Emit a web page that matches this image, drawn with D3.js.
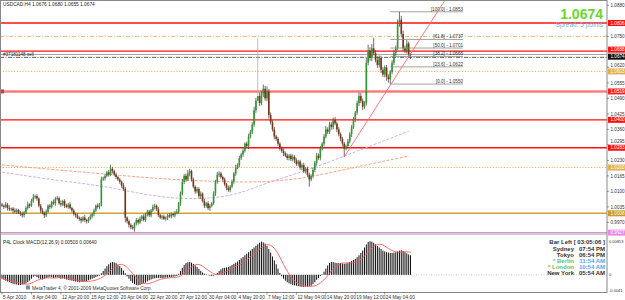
<!DOCTYPE html>
<html><head><meta charset="utf-8">
<script src="https://cdn.jsdelivr.net/npm/d3@7"></script>
<style>body{margin:0;background:#fff;} svg{display:block;font-family:Arial,"Liberation Sans",sans-serif;}</style>
</head><body><svg id="c" width="625" height="300"></svg>
<script>
// ---- data (prices in pips = price*10000) ----
const symbol = "USDCAD,H4";
const lastOHLC = ["1.0676","1.0680","1.0655","1.0674"];
const firstOpen = 10045;
const closes = [
10040,10035,10045,10030,10025,10028,10020,10015,10022,10010,10005,10000,
10012,10030,10045,10040,10060,10075,10080,
10070,10040,10020,10010,10000,
10015,10040,10035,10055,10050,10070,10072,
10050,10045,10060,10040,10035,10045,10030,
10020,10005,10000,9990,9985,9978,9990,9980,9975,9985,
9995,10005,10020,10040,10035,10045,
10150,
10155,10165,10180,10170,10195,10185,
10170,10160,10150,10140,10125,10110,
9990,
9975,9960,9950,9945,9965,9980,
9970,9985,9995,9980,10005,10015,10000,10020,10035,10040,10025,
10000,9990,9995,9985,9990,10000,9995,10005,10000,10010,10015,
10050,10090,10140,10165,10150,
10175,10185,10150,10120,10100,10110,10080,10090,
10060,10040,10050,10030,10040,10050,
10090,10140,10170,10175,
10160,10150,10130,10115,10105,
10120,10140,10175,10200,10210,10240,10255,10270,10300,10290,10330,10350,10380,
10440,10480,10500,10470,10510,10530,10490,10520,10420,10390,
10360,10330,10320,10300,10280,10270,10260,10250,10240,10250,10235,
10245,10230,10215,10225,10200,10210,10185,10195,10170,10150,10165,
10190,10220,10250,10240,10280,10300,
10330,10360,10350,10380,10370,10400,10385,10360,
10340,10320,10300,10280,10290,
10310,10340,10370,10400,10430,10470,10500,10480,10455,10470,10640,10690,10660,10700,10680,10650,10630,10660,10610,10590,10620,10580,10570,10600,10640,10680,10700,10800,10820,10760,10700,10690,10720,10676,10674];
const wickUp = [
8,5,10,6,12,4,7,9,6,5, 7,10,6,8,12,5,9,14,6,8, 5,7,10,6,9,5,8,6,11,7, 9,6,12,5,7,8,6,10,5,7,
6,9,5,8,6,12,5,7,9,6, 8,5,10,6,12,7,9,6,10,17, 8,6,9,5,7,6,10,8,5,7, 6,9,5,8,7,10,6,9,5,8,
7,6,10,8,5,9,6,7,8,5, 6,9,7,5,8,10,6,9,12,8, 9,14,10,6,8,5,9,7,10,6, 8,5,9,7,6,10,8,12,9,7,
6,8,5,9,7,10,6,12,8,9, 7,10,6,9,12,8,10,15,12,243, 14,10,18,12,20,9,11,8,10,7, 9,6,8,10,7,9,6,8,10,7,
9,6,8,7,10,6,9,8,7,10, 8,12,9,10,7,11,14,9,12,10, 9,12,8,10,7,9,8,6,10,8, 9,12,7,10,14,12,9,8,20,25,
14,18,44,12,16,10,9,12,8,10, 11,9,10,14,12,20,33,16,14,12, 15,8,4];
const wickDn = [
6,9,5,10,7,8,12,6,9,5, 8,10,9,6,7,10,5,8,6,9, 7,10,6,12,8,5,9,7,6,10, 8,6,9,7,10,5,8,6,9,7,
10,6,8,12,5,9,10,7,6,8, 9,6,7,10,8,6,9,7,8,6, 10,7,9,6,8,10,7,20,10,12, 9,6,14,8,10,7,9,6,8,10,
7,9,6,10,8,7,6,9,5,8, 10,6,8,7,9,6,8,10,7,9, 10,8,12,9,7,10,8,9,12,7, 10,9,8,12,7,6,9,8,10,7,
9,8,10,7,9,6,8,10,7,9, 8,10,7,9,12,8,10,9,11,10, 12,9,14,10,12,15,10,9,12,8, 10,9,8,12,7,9,10,8,9,11,
8,10,9,12,8,10,9,30,8,10, 9,12,8,10,9,12,8,10,9,11, 10,8,12,9,10,12,35,8,10,9, 12,8,10,9,12,10,14,9,10,12,
12,14,10,9,12,11,14,10,12,16, 14,20,9,10,12,8,10,14,12,10, 12,14,19];
// MACD main (pips)
const macdHist = [
-10,-12,-15,-17,-19,-21,-23,-24,-25,-26,-26,-25,-24,-22,-19,-15,-10,
-5,-3,-6,-9,-11,-12,-10,
-8,-7,-5,-6,-8,-7,-6,-8,-10,-9,-10,-12,-13,-14,-15,-16,-17,-18,-19,-18,-18,-17,-16,-14,-12,-10,-8,-6,-4,-2,
4,10,16,22,27,31,33,32,30,26,22,17,11,
4,-4,-10,-16,-21,-24,-26,-27,-26,-24,-22,-20,-17,-14,-12,-10,-9,-8,
-8,-8,-9,-8,-7,-7,-6,-6,-5,-4,-3,
3,10,18,25,30,32,33,31,28,24,20,15,10,6,3,1,
-1,-2,-3,-2,1,5,
10,14,17,18,19,20,
22,25,28,31,34,38,42,46,50,54,58,62,66,70,74,78,82,85,83,80,
74,66,57,47,37,27,16,5,
-4,-10,-15,-19,-22,-24,-26,-27,-28,-29,-30,-31,-31,-30,-30,-29,-28,
-24,-19,-13,-8,-3,1,
8,16,24,30,33,33,31,30,30,
30,29,28,29,31,33,35,38,41,45,50,56,
62,70,78,84,86,
85,82,78,74,70,66,62,60,58,57,56,
56,57,58,60,62,63,61,58,55,52,50];
// moving averages (bar index, pips)
const maOrangeBars = [0,30,60,90,120,140,160,180,200,221];
const maOrangeVals = [10211,10190,10170,10150,10140,10138,10150,10180,10215,10248];
const maPurpleBars = [0,30,53,75,95,115,130,145,165,188,221];
const maPurpleVals = [10181,10145,10126,10090,10068,10070,10092,10140,10185,10254,10352];
// horizontal levels
const redLevels = [1.0806, 1.0688, 1.0400, 1.0283];
const strongLevels = [1.0519];
const goldDotted = [1.0603, 1.0200];
const goldSolid = [1.0008];
const orangeDashDot = [1.0750];
const violetLevels = [0.9927];
const bidPrice = 1.0674;
const orderPrice = 1.0662;
const orderLabel = "#37181148 sell";
// fibonacci
const fibPct = ["100.0","61.8","50.0","38.2","23.6","0.0"];
const fibPrices = [1.0853, 1.0737, 1.0701, 1.0666, 1.0622, 1.0550];
// trend line
const trendBars = [186, 241];
const trendPrices = [1.0245, 1.0905];
// axes
const priceTicks = [1.0880,1.0750,1.0620,1.0555,1.0490,1.0425,1.0360,1.0295,1.0230,1.0165,1.0100,1.0035,0.9970];
const timeBars = [0,16,32,48,64,80,96,112,128,144,160,176,192,208];
const timeLabels = ["5 Apr 2010","8 Apr 04:00","12 Apr 20:00","15 Apr 12:00","20 Apr 04:00","22 Apr 20:00","27 Apr 12:00","30 Apr 04:00","4 May 20:00","7 May 12:00","12 May 04:00","14 May 20:00","19 May 12:00","24 May 04:00"];
const macdAxisLabels = ["0.00853","0","-0.0041"];
const macdAxisVals = [0.0085, 0, -0.0041];
const clockNames = ["Sydney","Tokyo","* Berlin","* London","New York"];
const clockTimes = ["07:54 PM","06:54 PM","11:54 AM","10:54 AM","05:54 AM"];
const clockHighlight = [false,false,true,true,false];
const barLeft = "Bar Left [ 03:05:06 ]";
const bigPrice = "1.0674";
const spreadText = "Spread: 5 points";

// ---- drawing ----
const svg = d3.select("#c");
const N = closes.length;
const AX = 607;
const x = d3.scaleLinear().domain([0, N-1]).range([2, 410.5]);
const y = d3.scaleLinear().domain([0.99255, 1.09024]).range([233, 0]);
const ym = d3.scaleLinear().domain([-0.0044, 0.0102]).range([292, 235]);
const p = v => v/10000;

svg.append("defs").append("clipPath").attr("id","mainclip")
  .append("rect").attr("x",0).attr("y",0).attr("width",AX).attr("height",233);
const main = svg.append("g").attr("clip-path","url(#mainclip)");

function hline(g, price, color, width, dash, x1=0, x2=AX){
  g.append("line").attr("x1",x1).attr("x2",x2).attr("y1",y(price)).attr("y2",y(price))
   .attr("stroke",color).attr("stroke-width",width).attr("stroke-dasharray",dash||null);
}
goldDotted.forEach(v=>hline(main,v,"#f0b060",1,"1.2,1.6"));
goldSolid.forEach(v=>hline(main,v,"#d4a030",1.4));
orangeDashDot.forEach(v=>hline(main,v,"#f5b070",1,"4,2,1,2"));
strongLevels.forEach(v=>{hline(main,v,"rgba(255,90,90,0.8)",2.6);
  main.append("rect").attr("x",1).attr("y",y(v)-2).attr("width",3).attr("height",4).attr("fill","#e03030");});
redLevels.forEach(v=>hline(main,v,"#ff1010",1.3));
violetLevels.forEach(v=>hline(main,v,"#e48ce4",1.2));
hline(main,bidPrice,"#9a9a9a",0.9);
hline(main,orderPrice,"#333",0.8,"4,1.5,1,1.5");
main.append("text").attr("x",3).attr("y",y(orderPrice)-1).attr("font-size",4.6).attr("fill","#222").text(orderLabel);

// MAs
const maLine = d3.line().x(d=>x(d[0])).y(d=>y(p(d[1]))).curve(d3.curveBasis);
main.append("path").attr("d",maLine(maOrangeBars.map((b,i)=>[b,maOrangeVals[i]])))
  .attr("fill","none").attr("stroke","#f39a7a").attr("stroke-width",0.9).attr("stroke-dasharray","3,1.5");
main.append("path").attr("d",maLine(maPurpleBars.map((b,i)=>[b,maPurpleVals[i]])))
  .attr("fill","none").attr("stroke","#c9a6e6").attr("stroke-width",0.9).attr("stroke-dasharray","3,1.5");

// candles
const candles = closes.map((c,i)=>{
  const o = i===0 ? firstOpen : closes[i-1];
  return {i, o, c, h: Math.max(o,c)+wickUp[i], l: Math.min(o,c)-wickDn[i]};
});
const cg = main.append("g");
cg.selectAll("line.w").data(candles).join("line").attr("class","w")
  .attr("x1",d=>x(d.i)).attr("x2",d=>x(d.i)).attr("y1",d=>y(p(d.h))).attr("y2",d=>y(p(d.l)))
  .attr("stroke",d=>d.i===139?"#b0b0b0":"#4a4a4a").attr("stroke-width",0.8);
cg.selectAll("rect.b").data(candles).join("rect").attr("class","b")
  .attr("x",d=>x(d.i)-0.8).attr("width",1.6)
  .attr("y",d=>y(p(Math.max(d.o,d.c))))
  .attr("height",d=>Math.max(0.7, Math.abs(y(p(d.o))-y(p(d.c)))))
  .attr("fill",d=>d.c>=d.o?"#2f9a2f":"#7a3414");

// fibonacci
fibPrices.forEach((v,i)=>{
  main.append("line").attr("x1",x(211)).attr("x2",463).attr("y1",y(v)).attr("y2",y(v))
    .attr("stroke","#8a8a8a").attr("stroke-width",0.8);
  main.append("text").attr("x",463).attr("y",y(v)-1).attr("text-anchor","end")
    .attr("font-size",4.6).attr("fill","#333").text("["+fibPct[i]+"] - "+v.toFixed(4));
});
// trend line
main.append("line").attr("x1",x(trendBars[0])).attr("y1",y(trendPrices[0]))
  .attr("x2",x(trendBars[1])).attr("y2",y(trendPrices[1]))
  .attr("stroke","#ff6a6a").attr("stroke-width",0.9);

// top texts
svg.append("text").attr("x",3).attr("y",6).attr("font-size",4.8).attr("fill","#222")
  .text(symbol+"  "+lastOHLC.join(" "));
svg.append("text").attr("x",603).attr("y",19).attr("text-anchor","end").attr("font-size",14)
  .attr("font-weight","bold").attr("fill","#6ad82a").text(bigPrice);
svg.append("text").attr("x",603).attr("y",27).attr("text-anchor","end").attr("font-size",6.5)
  .attr("fill","#7aaedc").text(spreadText);

// frame
svg.append("rect").attr("x",0.5).attr("y",0.5).attr("width",AX-0.5).attr("height",292)
  .attr("fill","none").attr("stroke","#888").attr("stroke-width",1);
svg.append("line").attr("x1",0).attr("x2",AX).attr("y1",234).attr("y2",234).attr("stroke","#999").attr("stroke-width",1);

// right price axis
const ax = svg.append("g");
const tagPrices = [].concat(goldDotted, goldSolid, strongLevels, redLevels, violetLevels, [bidPrice]);
priceTicks.forEach(v=>{
  const ty = y(v);
  ax.append("line").attr("x1",AX).attr("x2",AX+2).attr("y1",ty).attr("y2",ty).attr("stroke","#555").attr("stroke-width",0.6);
  let shift = 0;
  tagPrices.forEach(t=>{ const d = ty - y(t); if (Math.abs(d) < 6) shift = (d<0?-1:1)*(6-Math.abs(d)); });
  ax.append("text").attr("x",AX+3.5).attr("y",ty+1.7+shift).attr("font-size",4.6).attr("fill","#333").text(v.toFixed(4));
});
function tag(v, bg, fg, dy=0){
  ax.append("rect").attr("x",AX+1).attr("y",y(v)-3+dy).attr("width",18).attr("height",6).attr("fill",bg);
  ax.append("text").attr("x",AX+3.5).attr("y",y(v)+1.6+dy).attr("font-size",4.6).attr("fill",fg).text(v.toFixed(4));
}
goldDotted.forEach(v=>tag(v,"#e0b050","#fff"));
goldSolid.forEach(v=>tag(v,"#c89a28","#fff"));
strongLevels.forEach(v=>tag(v,"#ff2020","#fff"));
redLevels.forEach(v=>tag(v,"#ff1010","#fff", v===1.0688?-1.5:0));
violetLevels.forEach(v=>tag(v,"#e58ce5","#fff"));
tag(bidPrice,"#111","#fff",2.2);

// MACD panel
const zero = ym(0);
svg.append("line").attr("x1",1).attr("x2",AX).attr("y1",zero).attr("y2",zero)
  .attr("stroke","#aaa").attr("stroke-width",0.6).attr("stroke-dasharray","1,1.5");
svg.append("g").selectAll("line").data(macdHist).join("line")
  .attr("x1",(d,i)=>x(i)).attr("x2",(d,i)=>x(i)).attr("y1",zero).attr("y2",d=>ym(p(d)))
  .attr("stroke","#111").attr("stroke-width",1);
const signal = macdHist.map((d,i)=>d3.mean(macdHist.slice(Math.max(0,i-8),i+1)));
svg.append("path").attr("d",d3.line().x((d,i)=>x(i)).y(d=>ym(p(d))).curve(d3.curveMonotoneX)(signal))
  .attr("fill","none").attr("stroke","#ff5a5a").attr("stroke-width",0.9);
svg.append("text").attr("x",3).attr("y",244).attr("font-size",4.8).attr("fill","#222")
  .text("P4L Clock    MACD(12,26,9) 0.00503 0.00640");
macdAxisVals.forEach((v,i)=>{
  svg.append("text").attr("x",AX+2).attr("y",ym(v)+1.5).attr("font-size",4).attr("fill","#333").text(macdAxisLabels[i]);
});
// clock
svg.append("text").attr("x",605).attr("y",244).attr("text-anchor","end").attr("font-size",6)
  .attr("font-weight","bold").attr("fill","#333").text(barLeft);
clockNames.forEach((n,i)=>{
  const yy = 251 + i*6;
  svg.append("text").attr("x",574).attr("y",yy).attr("text-anchor","end").attr("font-size",6)
    .attr("font-weight","bold").attr("fill",clockHighlight[i]?"#5cc45c":"#333").text(n);
  svg.append("text").attr("x",605).attr("y",yy).attr("text-anchor","end").attr("font-size",6)
    .attr("font-weight","bold").attr("fill",clockHighlight[i]?"#4aa8ff":"#333").text(clockTimes[i]);
});
// copyright
svg.append("rect").attr("x",26).attr("y",285.5).attr("width",4).attr("height",4).attr("fill","#7a8aa8");
svg.append("text").attr("x",32).attr("y",289.5).attr("font-size",4.8).attr("fill","#333")
  .text("MetaTrader 4, \u00a9 2001-2009 MetaQuotes Software Corp.");

// time axis
timeBars.forEach((b,i)=>{
  svg.append("line").attr("x1",x(b)).attr("x2",x(b)).attr("y1",292).attr("y2",294.5).attr("stroke","#555").attr("stroke-width",0.6);
  svg.append("text").attr("x",x(b)+1).attr("y",298.5).attr("font-size",4.8).attr("fill","#333").text(timeLabels[i]);
});
</script></body></html>
